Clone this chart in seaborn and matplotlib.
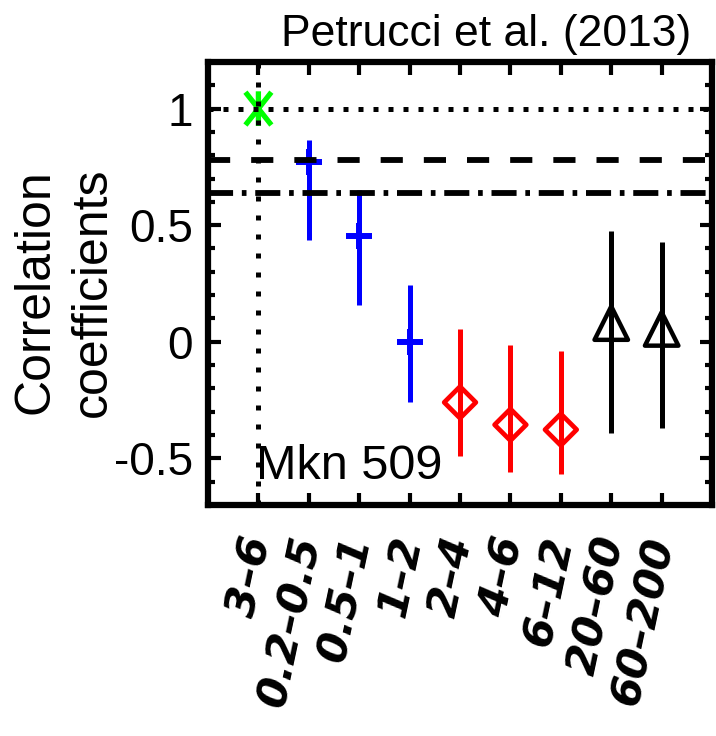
import numpy as np
import pandas as pd
import matplotlib
matplotlib.use("Agg")
import matplotlib.pyplot as plt
import seaborn as sns
from matplotlib.ticker import MultipleLocator
from matplotlib.path import Path

# ---- data ----
band_labels = ["3–6", "0.2–0.5", "0.5–1", "1–2", "2–4", "4–6", "6–12", "20–60", "60–200"]
band_pos = [1, 2, 3, 4, 5, 6, 7, 8, 9]
corr = [1.00, 0.77, 0.455, 0.0, -0.26, -0.356, -0.377, 0.08, 0.055]
err_hi = [np.nan, 0.864, 0.651, 0.244, 0.055, -0.013, -0.041, 0.474, 0.427]
err_lo = [np.nan, 0.438, 0.159, -0.26, -0.488, -0.559, -0.569, -0.39, -0.37]
group = ["ref", "soft", "soft", "soft", "hard", "hard", "hard", "bat", "bat"]
level_dotted = 1.0
level_dashed = 0.78
level_dashdot = 0.64
ytick_vals = [-0.5, 0, 0.5, 1]
ytick_labels = ["-0.5", "0", "0.5", "1"]
title_text = "Petrucci et al. (2013)"
source_text = "Mkn 509"
ylabel_text = "Correlation\ncoefficients"

df = pd.DataFrame({"pos": band_pos, "corr": corr, "hi": err_hi, "lo": err_lo, "group": group})

sns.set_style("ticks")
plt.rcParams["font.family"] = ["Liberation Sans", "DejaVu Sans"]

fig = plt.figure(figsize=(7.16, 7.36), dpi=100)
ax = fig.add_axes([0.2905, 0.3139, 0.704, 0.6019])

colors = {"ref": "#00ff00", "soft": "#0000ff", "hard": "#ff0000", "bat": "#000000"}

# IDL-like asterisk: vertical bar plus an X
star = Path([(0, -1), (0, 1), (-0.75, -0.95), (0.75, 0.95), (-0.75, 0.95), (0.75, -0.95)],
            [Path.MOVETO, Path.LINETO, Path.MOVETO, Path.LINETO, Path.MOVETO, Path.LINETO])

# error bars
for g in ["soft", "hard", "bat"]:
    sub = df[df.group == g]
    ax.vlines(sub["pos"], sub["lo"], sub["hi"], colors=colors[g], lw=3.6, zorder=3)

# markers
styles = {
    "ref": dict(marker=star, s=620, lw=3.8, hollow=True),
    "soft": dict(marker="+", s=340, lw=4.3, hollow=False),
    "hard": dict(marker="D", s=260, lw=3.4, hollow=True),
    "bat": dict(marker="^", s=580, lw=3.2, hollow=True),
}
for g, st in styles.items():
    sub = df[df.group == g]
    sns.scatterplot(data=sub, x="pos", y="corr", ax=ax, marker=st["marker"], s=st["s"],
                    color=colors[g], legend=False, zorder=4)
    coll = ax.collections[-1]
    if st["hollow"]:
        coll.set_facecolor("none")
    else:
        coll.set_facecolor(colors[g])
    coll.set_edgecolor(colors[g])
    coll.set_linewidth(st["lw"])

# reference lines
ax.axhline(level_dotted, color="k", lw=3.6, dashes=(1.0, 2.0), zorder=5)
ax.axhline(level_dashed, color="k", lw=4.2, dashes=(3.8, 3.6), zorder=5)
ax.axhline(level_dashdot, color="k", lw=4.2, dashes=(4.3, 1.5, 0.8, 1.5), zorder=5)
ax.axvline(band_pos[0], color="k", lw=3.6, dashes=(1.0, 2.8), zorder=5)

ax.set_xlim(0, 10)
ax.set_ylim(-0.7, 1.2)
ax.set_xlabel("")
ax.set_ylabel("")

ax.set_yticks(ytick_vals, labels=ytick_labels)
ax.yaxis.set_minor_locator(MultipleLocator(0.1))
ax.set_xticks(band_pos, labels=band_labels)

ax.tick_params(which="both", direction="in", top=True, right=True, width=3, color="k")
ax.tick_params(which="major", length=9)
ax.tick_params(which="minor", length=5)
ax.tick_params(axis="y", labelsize=33, pad=11, labelcolor="k")
ax.tick_params(axis="x", labelsize=31, pad=23, labelcolor="k")
for lab in ax.get_xticklabels():
    lab.set_rotation(78)
    lab.set_rotation_mode("anchor")
    lab.set_ha("right")
    lab.set_va("center")
    lab.set_fontweight("bold")
    lab.set_fontstyle("italic")
    lab.set_fontfamily("DejaVu Sans")

for sp in ax.spines.values():
    sp.set_linewidth(4.5)
    sp.set_color("k")
    sp.set_visible(True)

ax.text(0.96, -0.59, source_text, fontsize=35, color="k", ha="left", va="baseline", zorder=6)

fig.text(0.679, 0.9375, title_text, fontsize=32, ha="center", va="baseline", color="k")
fig.text(64 / 716, 1 - 292 / 736, ylabel_text, fontsize=36, rotation=90, ha="center",
         va="center", ma="center", color="k", linespacing=1.3)

fig.savefig("out.png", dpi=100)
